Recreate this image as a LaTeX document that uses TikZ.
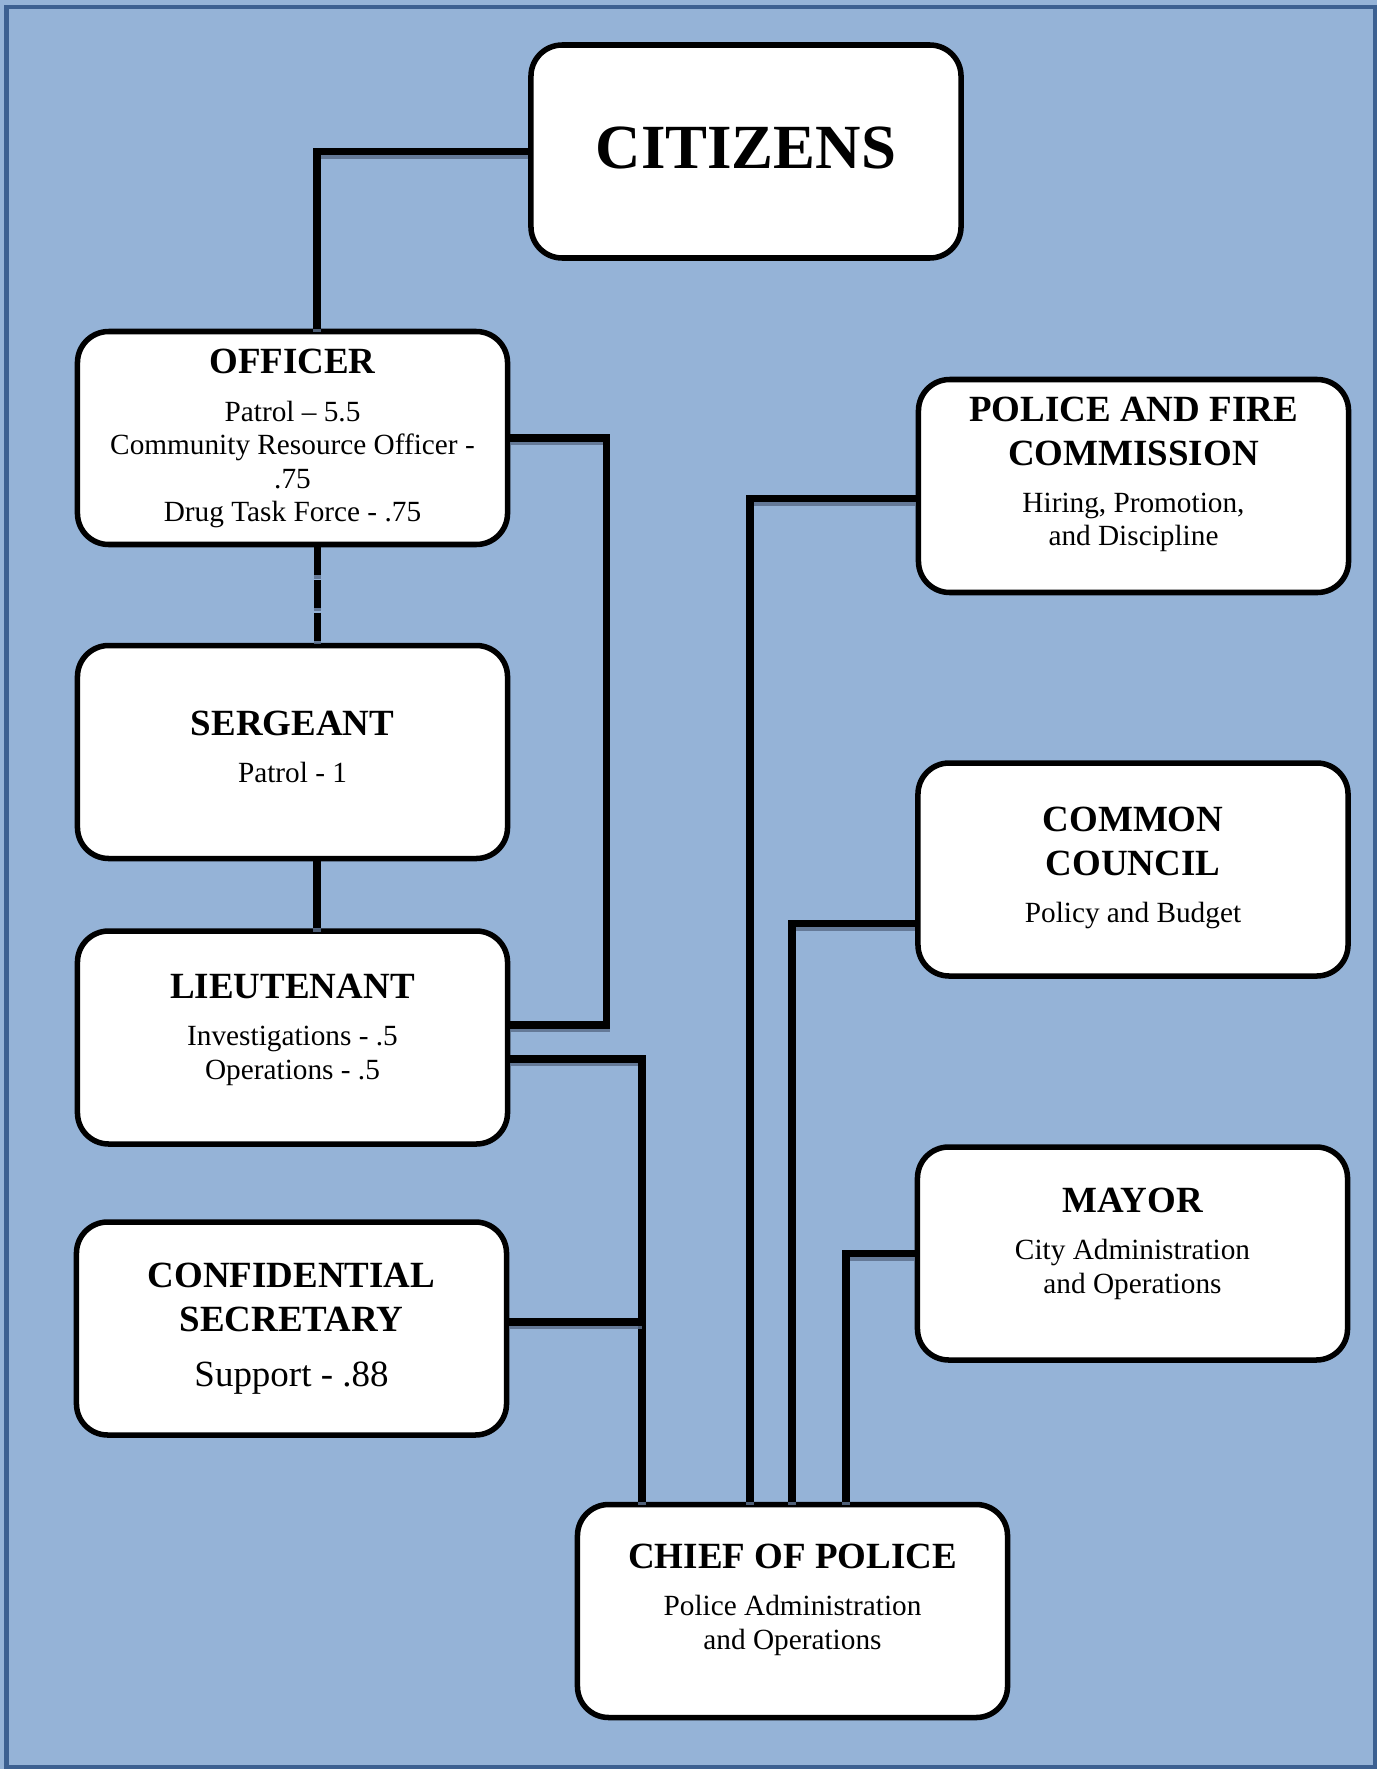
\documentclass[tikz,border=0pt]{standalone}
\usepackage{fontspec}
\setmainfont{Liberation Serif}
\usetikzlibrary{calc}
\definecolor{sky}{RGB}{149,179,215}
\definecolor{frame}{RGB}{60,96,145}
\definecolor{dusk}{RGB}{92,112,140}
\tikzstyle{unit}=[draw=black, line width=2.3pt, fill=white, rounded corners=13pt, inner sep=0pt]
\tikzstyle{link}=[line width=3.1pt, draw=black]
\tikzstyle{linkshade}=[line width=3.1pt, draw=dusk, draw opacity=.85, transform canvas={yshift=-1.4pt}]
\newcommand{\titlef}{\fontsize{15.4}{18.33}\selectfont\bfseries}
\newcommand{\bodyf}{\normalfont\fontsize{12.2}{13.96}\selectfont}
\newcommand{\unittext}[2]{\parbox[c][88.75pt][t]{179.2pt}{\centering\rule{0pt}{#1}#2}}
% connector with its shadow under it
\newcommand{\wire}[2][]{\draw[linkshade,#1] #2; \draw[link,#1] #2;}

\begin{document}
\begin{tikzpicture}[x=0.41667pt, y=-0.41667pt]
	\pgfsetlinewidth{1pt}

    % page background and frame
    \fill[sky] (0,0) rectangle (1377,1769);
    \useasboundingbox (0,0) rectangle (1377,1769);
    \draw[frame, line width=1.9pt] (6.5,7) rectangle (1375,1767);

    % Top of the chain
    \node[unit] (citizens) at (746,151.5) {\unittext{51.5pt}{\fontsize{26.2}{30}\selectfont\bfseries CITIZENS}};

    % Sworn ranks (left column)
    \node[unit] (officer) at (292.5,438) {\unittext{17.6pt}{\titlef OFFICER\par\vspace{5.8pt}\bodyf Patrol – 5.5\par Community Resource Officer -\par .75\par Drug Task Force - .75}};
    \node[unit] (sergeant) at (292.5,752) {\unittext{37.3pt}{\titlef SERGEANT\par\vspace{5.8pt}\bodyf Patrol - 1}};
    \node[unit] (lieutenant) at (292.5,1037.5) {\unittext{28.1pt}{\titlef LIEUTENANT\par\vspace{5.8pt}\bodyf Investigations - .5\par Operations - .5}};
    \node[unit] (secretary) at (291.5,1328.5) {\unittext{27.3pt}{\titlef CONFIDENTIAL\par SECRETARY\par\vspace{4.6pt}\normalfont\fontsize{15.4}{18.33}\selectfont Support - .88}};

    % Chief
    \node[unit] (chief) at (792.5,1611) {\unittext{26.5pt}{\titlef CHIEF OF POLICE\par\vspace{5.8pt}\bodyf Police Administration\par and Operations}};

    % Oversight (right column)
    \node[unit] (commission) at (1133.5,486) {\unittext{17.3pt}{\titlef POLICE AND FIRE\par COMMISSION\par\vspace{5.8pt}\bodyf Hiring, Promotion,\par and Discipline}};
    \node[unit] (council) at (1133,869.5) {\unittext{28.5pt}{\titlef COMMON\par COUNCIL\par\vspace{5.8pt}\bodyf Policy and Budget}};
    \node[unit] (mayor) at (1132.5,1253.5) {\unittext{27.3pt}{\titlef MAYOR\par\vspace{5.8pt}\bodyf City Administration\par and Operations}};

    % Left chain
    \wire{(citizens.west) -| ($(officer.north)+(24.5,0)$)}
    \wire[dash pattern=on 11.7pt off 1.9pt]{($(officer.south)+(25,0)$) -- ($(sergeant.north)+(25,0)$)}
    \wire{($(sergeant.south)+(24.5,0)$) -- ($(lieutenant.north)+(24.5,0)$)}
    \wire{(officer.east) -| ($(lieutenant.east)+(96,-12.5)$) -- ($(lieutenant.east)+(0,-12.5)$)}

    % Into the chief
    \coordinate (bus) at ($(chief.north)+(-150.5,0)$);
    \wire{($(lieutenant.east)+(0,21.5)$) -| (bus)}
    \wire{($(secretary.east)+(0,-6.5)$) -- ($(secretary.east -| bus)+(0,-6.5)$)}
    \wire{($(commission.west)+(0,12.5)$) -| ($(chief.north)+(-42.5,0)$)}
    \wire{($(council.west)+(0,54)$) -| ($(chief.north)+(-0.5,0)$)}
    \wire{(mayor.west) -| ($(chief.north)+(53.5,0)$)}

\end{tikzpicture}
\end{document}
